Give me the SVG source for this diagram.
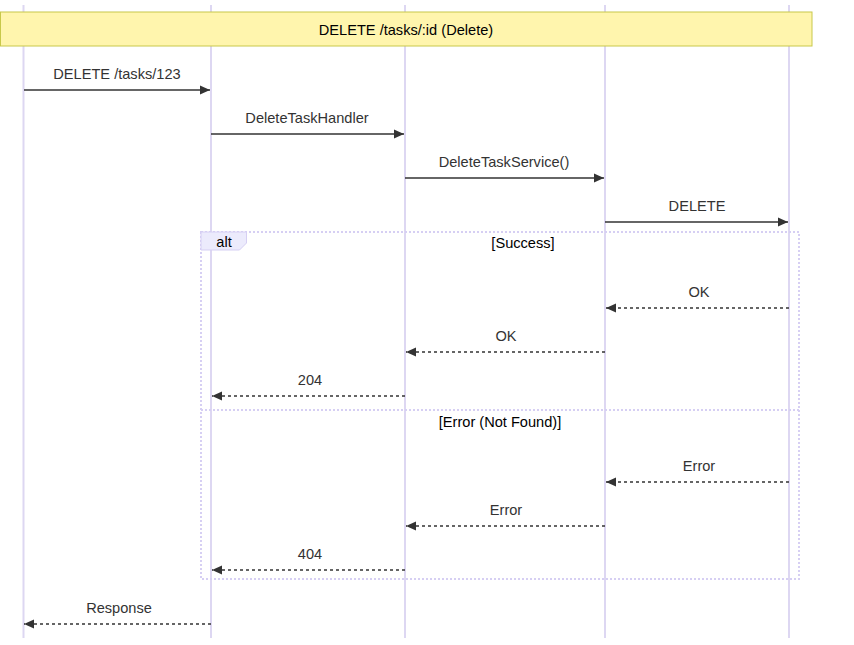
<svg xmlns="http://www.w3.org/2000/svg" width="854" height="645" viewBox="0 0 854 645">
<style>
text{font-family:"Liberation Sans",Arial,sans-serif;font-size:14.6px;fill:#333;text-anchor:middle;dominant-baseline:central}
.life{stroke:#ddd7f2;stroke-width:2}
.msg{stroke:#333;stroke-width:1.5;fill:none}
.dash{stroke-dasharray:3,3}
.frame{stroke:#d6cff3;stroke-width:2;stroke-dasharray:2,2;fill:none}
</style>
<defs>
<marker id="ah" viewBox="0 0 10 10" refX="10" refY="5" markerWidth="10" markerHeight="10" markerUnits="userSpaceOnUse" orient="auto">
<path d="M0,0.5 L10,5 L0,9.5 z" fill="#333"/>
</marker>
</defs>
<rect width="854" height="645" fill="#fff"/>
<g id="lifelines">
<line class="life" x1="23.5" y1="5" x2="23.5" y2="638"/>
<line class="life" x1="211" y1="5" x2="211" y2="638"/>
<line class="life" x1="405" y1="5" x2="405" y2="638"/>
<line class="life" x1="605" y1="5" x2="605" y2="638"/>
<line class="life" x1="789" y1="5" x2="789" y2="638"/>
</g>
<g id="note">
<rect x="0.5" y="12" width="811.5" height="34" fill="#fff5ad" stroke="#c8c84a" stroke-width="1"/>
<text x="406" y="30" style="fill:#000">DELETE /tasks/:id (Delete)</text>
</g>
<g id="alt">
<rect class="frame" x="201" y="232" width="598" height="347"/>
<line class="frame" x1="201" y1="410" x2="799" y2="410"/>
<path d="M201,232 H246.5 V243 L239.5,250 H201 Z" fill="#ecebfc" stroke="#d6cff3" stroke-width="1"/>
<text x="224" y="242" style="fill:#000">alt</text>
<text x="523" y="243" style="fill:#000">[Success]</text>
<text x="500" y="422" style="fill:#000">[Error (Not Found)]</text>
</g>
<g id="connectors">
<line class="msg" x1="24" y1="90" x2="210" y2="90" marker-end="url(#ah)"/>
<text x="117" y="74">DELETE /tasks/123</text>
<line class="msg" x1="211" y1="134" x2="404" y2="134" marker-end="url(#ah)"/>
<text x="307" y="118">DeleteTaskHandler</text>
<line class="msg" x1="405" y1="178" x2="604" y2="178" marker-end="url(#ah)"/>
<text x="504" y="162">DeleteTaskService()</text>
<line class="msg" x1="605" y1="222" x2="788" y2="222" marker-end="url(#ah)"/>
<text x="697" y="206">DELETE</text>
<line class="msg dash" x1="789" y1="308" x2="606" y2="308" marker-end="url(#ah)"/>
<text x="699" y="292">OK</text>
<line class="msg dash" x1="605" y1="352" x2="406" y2="352" marker-end="url(#ah)"/>
<text x="506" y="336">OK</text>
<line class="msg dash" x1="405" y1="396" x2="212" y2="396" marker-end="url(#ah)"/>
<text x="310" y="380">204</text>
<line class="msg dash" x1="789" y1="482" x2="606" y2="482" marker-end="url(#ah)"/>
<text x="699" y="466">Error</text>
<line class="msg dash" x1="605" y1="526" x2="406" y2="526" marker-end="url(#ah)"/>
<text x="506" y="510">Error</text>
<line class="msg dash" x1="405" y1="570" x2="212" y2="570" marker-end="url(#ah)"/>
<text x="310" y="554">404</text>
<line class="msg dash" x1="211" y1="624" x2="24" y2="624" marker-end="url(#ah)"/>
<text x="119" y="608">Response</text>
</g>
</svg>
